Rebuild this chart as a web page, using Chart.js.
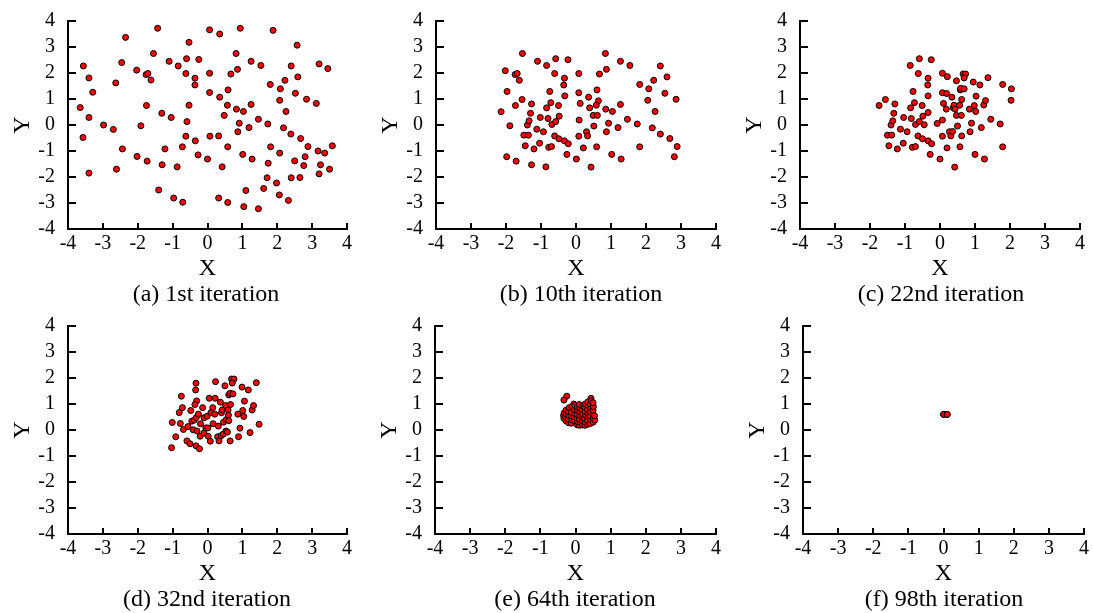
<!DOCTYPE html>
<html>
<head>
<meta charset="utf-8">
<script src="https://cdn.jsdelivr.net/npm/chart.js@4.4.1/dist/chart.umd.min.js"></script>
<style>
  body { margin: 0; background: #fff; }
  #figure { position: relative; width: 1093px; height: 613px; overflow: hidden; }
  .panel { position: absolute; }
  .caption {
    position: absolute; font-family: 'Liberation Serif', 'Times New Roman', serif;
    font-size: 24px; line-height: 28px; color: #000; white-space: nowrap;
    transform: translateX(-50%);
  }
</style>
</head>
<body>
<div id="figure"></div>
<script>
// ========== DATA ==========
const axisTicks = [-4, -3, -2, -1, 0, 1, 2, 3, 4];
const captions = ['(a) 1st iteration', '(b) 10th iteration', '(c) 22nd iteration',
  '(d) 32nd iteration', '(e) 64th iteration', '(f) 98th iteration'];

const iter1 = [
  [-3.56, 2.27], [-3.40, 1.81], [-3.29, 1.26], [-3.65, 0.67], [-3.40, 0.29], [-3.57, -0.48],
  [-3.40, -1.85], [-2.98, 0.00], [-2.70, -0.17], [-2.44, -0.92], [-2.61, -1.70], [-2.63, 1.62],
  [-2.46, 2.40], [-2.35, 3.37], [-2.03, 2.11], [-1.76, 1.94], [-1.71, 1.98], [-1.62, 1.73],
  [-1.75, 0.75], [-1.91, -0.03], [-2.02, -1.21], [-1.73, -1.39], [-1.43, 3.72], [-1.55, 2.75],
  [-1.31, 0.45], [-1.22, -0.92], [-1.30, -1.53], [-1.40, -2.50], [-1.10, 2.45], [-1.04, 0.29],
  [-0.84, 2.27], [-0.87, -1.61], [-0.97, -2.81], [-0.71, -2.97], [-0.72, -0.84], [-0.53, 3.18],
  [-0.60, 2.55], [-0.62, 1.98], [-0.53, 0.76], [-0.59, 0.13], [-0.62, -0.43], [-0.36, 1.80],
  [-0.36, 1.54], [-0.25, 2.52], [-0.35, -0.61], [-0.27, -1.15], [0.00, -1.31], [0.06, 3.66],
  [0.35, 3.50], [0.06, 1.99], [0.06, 1.25], [0.35, 1.07], [0.07, -0.43], [0.32, -0.42],
  [0.42, -1.61], [0.32, -2.81], [0.58, -2.98], [0.48, 0.37], [0.57, 0.76], [0.59, 1.35],
  [0.67, 1.96], [0.82, 2.75], [0.86, 2.14], [0.94, 3.72], [0.83, 0.61], [1.03, 0.52],
  [0.91, 0.07], [0.87, -0.26], [0.58, -0.84], [1.01, -1.13], [1.10, -2.52], [1.04, -3.14],
  [1.19, -0.10], [1.25, 2.45], [1.25, 0.79], [1.28, -1.31], [1.46, -3.22], [1.46, 0.22],
  [1.53, 2.29], [1.73, 0.04], [1.80, 1.56], [1.81, -0.84], [1.74, -1.47], [1.71, -2.03],
  [1.61, -2.44], [1.88, 3.64], [1.98, -2.23], [2.06, -2.69], [2.07, 0.95], [2.09, 1.39],
  [2.07, -1.08], [2.18, -0.11], [2.22, 1.72], [2.25, 0.52], [2.32, -2.90], [2.40, 2.27],
  [2.39, -0.35], [2.40, -2.03], [2.57, 3.07], [2.59, 1.85], [2.52, 1.22], [2.67, -0.52],
  [2.50, -1.38], [2.65, -2.02], [2.84, 0.99], [2.88, -0.83], [2.80, -1.22], [2.76, -1.56],
  [3.12, 0.83], [3.20, 2.35], [3.17, -1.00], [3.20, -1.88], [3.24, -1.53], [3.45, 2.17],
  [3.36, -1.08], [3.50, -1.70], [3.58, -0.80]
];

const iter10 = [
  [-2.14, 0.51], [-2.02, 2.09], [-1.97, 1.29], [-1.89, -0.03], [-1.98, -1.22], [-1.71, -1.39],
  [-1.74, 1.94], [-1.68, 1.98], [-1.62, 1.72], [-1.73, 0.75], [-1.53, 2.75], [-1.54, 0.98],
  [-1.49, -0.39], [-1.36, -0.39], [-1.45, -0.80], [-1.39, 0.00], [-1.34, 0.16], [-1.30, 0.45],
  [-1.27, 0.81], [-1.27, -1.53], [-1.20, -0.92], [-1.12, -0.16], [-1.10, 2.45], [-1.02, 0.29],
  [-1.04, -0.70], [-0.93, -0.26], [-0.84, 2.29], [-0.84, 0.66], [-0.80, 0.25], [-0.78, -0.86],
  [-0.70, -0.83], [-0.86, -1.61], [-0.75, 1.29], [-0.72, 0.86], [-0.69, 0.02], [-0.58, 0.13],
  [-0.61, -0.42], [-0.58, 2.55], [-0.61, 1.98], [-0.50, 0.75], [-0.48, 0.34], [-0.49, -0.53],
  [-0.23, 2.51], [-0.33, 1.80], [-0.35, 1.54], [-0.32, 1.12], [-0.33, -0.61], [-0.22, -0.72],
  [-0.26, -1.13], [0.01, -1.31], [0.08, 1.98], [0.08, 1.24], [0.12, 0.83], [0.09, 0.19],
  [0.08, -0.43], [0.21, -0.88], [0.30, -0.26], [0.33, -0.42], [0.36, 1.07], [0.39, 0.66],
  [0.49, 0.37], [0.51, -0.04], [0.43, -1.62], [0.60, 1.35], [0.64, 0.93], [0.58, 0.76],
  [0.61, 0.37], [0.59, -0.84], [0.67, 1.96], [0.84, 2.75], [0.87, 2.14], [0.85, 0.61],
  [0.93, 0.07], [0.87, -0.26], [1.04, 0.52], [1.02, -1.13], [1.20, -0.10], [1.27, 2.45],
  [1.27, 0.79], [1.29, -1.31], [1.47, 0.22], [1.54, 2.29], [1.75, 0.04], [1.82, 1.56],
  [1.82, -0.84], [2.08, 1.39], [2.05, 0.95], [2.18, -0.11], [2.22, 1.72], [2.26, 0.52],
  [2.41, 2.27], [2.41, -0.35], [2.54, 1.22], [2.60, 1.85], [2.68, -0.52], [2.86, 0.99],
  [2.89, -0.83], [2.81, -1.22]
];

const iter22 = [
  [-1.74, 0.75], [-1.56, 0.98], [-1.50, -0.39], [-1.38, -0.39], [-1.46, -0.80], [-1.40, 0.00],
  [-1.35, 0.16], [-1.32, 0.45], [-1.29, 0.81], [-1.22, -0.92], [-1.13, -0.16], [-1.04, 0.29],
  [-1.05, -0.70], [-0.94, -0.26], [-0.85, 2.29], [-0.84, 0.66], [-0.82, 0.25], [-0.79, -0.86],
  [-0.70, -0.83], [-0.77, 1.29], [-0.73, 0.86], [-0.70, 0.02], [-0.59, 0.13], [-0.63, -0.42],
  [-0.59, 2.55], [-0.62, 1.98], [-0.51, 0.75], [-0.49, 0.34], [-0.50, -0.53], [-0.45, 0.01],
  [-0.25, 2.51], [-0.34, 1.80], [-0.35, 1.54], [-0.34, 1.12], [-0.34, 0.48], [-0.34, -0.61],
  [-0.24, -0.72], [-0.28, -1.13], [-0.08, 0.06], [0.00, -1.31], [0.07, 1.99], [0.07, 1.24],
  [0.10, 0.83], [0.07, 0.19], [0.07, -0.43], [0.21, 1.86], [0.19, 1.21], [0.18, 0.61],
  [0.20, -0.88], [0.27, -0.26], [0.31, -0.42], [0.34, 1.07], [0.36, -0.25], [0.38, 0.66],
  [0.40, 0.76], [0.43, 0.61], [0.47, 1.70], [0.47, 0.37], [0.50, -0.04], [0.42, -1.62],
  [0.56, 0.76], [0.58, 1.35], [0.59, 1.41], [0.62, 0.98], [0.61, 0.37], [0.57, -0.84],
  [0.62, -0.42], [0.66, 1.96], [0.73, 1.96], [0.69, 1.81], [0.69, 1.39], [0.84, 0.61],
  [0.90, 0.07], [0.86, -0.26], [0.95, 1.65], [0.98, 0.75], [1.03, 1.11], [1.02, 0.52],
  [1.00, -1.13], [1.14, 1.54], [1.18, -0.10], [1.25, 0.77], [1.30, 0.94], [1.27, -1.31],
  [1.37, 1.82], [1.45, 0.22], [1.72, 0.04], [1.79, 1.56], [1.79, -0.84], [2.04, 1.39],
  [2.03, 0.95]
];

const iter32 = [
  [-1.03, -0.68], [-1.01, 0.29], [-0.91, -0.26], [-0.81, 0.67], [-0.78, 0.25], [-0.75, 1.30],
  [-0.72, 0.86], [-0.69, 0.02], [-0.59, -0.42], [-0.56, 0.13], [-0.50, -0.53], [-0.48, 0.75],
  [-0.45, 0.34], [-0.41, 0.01], [-0.38, 0.38], [-0.33, -0.61], [-0.33, 1.80], [-0.34, 1.54],
  [-0.31, 1.12], [-0.36, 0.98], [-0.32, 0.48], [-0.30, -0.04], [-0.26, 0.61], [-0.23, -0.72],
  [-0.21, -0.24], [-0.20, 0.24], [-0.14, 0.86], [-0.10, -0.12], [-0.10, 0.47], [-0.05, 0.08],
  [-0.01, 0.53], [0.01, 0.08], [0.02, -0.24], [0.05, 1.22], [0.08, -0.43], [0.10, 0.67],
  [0.15, 0.86], [0.16, 0.24], [0.23, 1.86], [0.22, 1.22], [0.21, 0.61], [0.29, -0.26],
  [0.33, -0.42], [0.31, 0.15], [0.37, 1.07], [0.39, -0.22], [0.40, 0.66], [0.42, 0.77],
  [0.46, 0.30], [0.45, -0.16], [0.50, 1.70], [0.52, 0.94], [0.53, -0.04], [0.54, 0.40],
  [0.57, -0.08], [0.59, 0.77], [0.60, 0.57], [0.61, 1.35], [0.61, 0.36], [0.65, 1.41],
  [0.66, 0.98], [0.65, -0.42], [0.69, 1.96], [0.76, 1.96], [0.71, 1.81], [0.73, 1.39],
  [0.87, 0.61], [0.93, 0.07], [0.89, -0.26], [0.99, 1.65], [1.01, 0.75], [1.06, 1.11],
  [1.04, 0.52], [1.17, 1.54], [1.22, -0.10], [1.28, 0.77], [1.32, 0.94], [1.40, 1.82],
  [1.48, 0.22]
];

const iter64 = [
  [-0.25, 1.30], [-0.33, 1.15], [0.44, 1.22], [-0.05, 1.00],
  [-0.33, 0.45], [-0.34, 0.56], [-0.32, 0.66],
  [-0.27, 0.35], [-0.28, 0.50], [-0.26, 0.62], [-0.27, 0.76],
  [-0.20, 0.28], [-0.21, 0.42], [-0.19, 0.55], [-0.20, 0.70], [-0.18, 0.86],
  [-0.12, 0.26], [-0.11, 0.40], [-0.13, 0.55], [-0.12, 0.68], [-0.10, 0.90],
  [-0.03, 0.35], [-0.04, 0.50], [-0.02, 0.63], [-0.03, 0.78], [-0.01, 0.94],
  [0.05, 0.20], [0.06, 0.32], [0.04, 0.46], [0.05, 0.60], [0.06, 0.75], [0.05, 0.88],
  [0.12, 0.18], [0.13, 0.30], [0.11, 0.42], [0.12, 0.56], [0.13, 0.70], [0.12, 0.85], [0.11, 0.98],
  [0.20, 0.20], [0.19, 0.35], [0.21, 0.48], [0.20, 0.62], [0.19, 0.78], [0.21, 0.92],
  [0.27, 0.18], [0.28, 0.30], [0.26, 0.45], [0.28, 0.58], [0.27, 0.72], [0.26, 0.88], [0.28, 1.00],
  [0.35, 0.22], [0.34, 0.38], [0.36, 0.52], [0.35, 0.65], [0.34, 0.80], [0.36, 0.95], [0.35, 1.08],
  [0.42, 0.25], [0.43, 0.40], [0.41, 0.55], [0.42, 0.70], [0.43, 0.85], [0.42, 1.00], [0.45, 1.12],
  [0.50, 0.30], [0.51, 0.45], [0.49, 0.60], [0.50, 0.75], [0.51, 0.90], [0.50, 1.05],
  [0.55, 0.38], [0.54, 0.55]
];

const iter98 = [
  [0.00, 0.60], [0.01, 0.60], [0.10, 0.60], [0.11, 0.60]
];

const panelPoints = [iter1, iter10, iter22, iter32, iter64, iter98];

// ========== LAYOUT ==========
// L/R/T/B = plot area edges in page pixels, cx/cy = caption centre
const panels = [
  { L: 68, R: 349, T: 21, B: 229, cx: 206, cy: 293 },
  { L: 436, R: 718, T: 21, B: 229, cx: 581, cy: 293 },
  { L: 800, R: 1082, T: 21, B: 229, cx: 941, cy: 293 },
  { L: 68, R: 349, T: 326, B: 534, cx: 207, cy: 598 },
  { L: 435, R: 718, T: 326, B: 534, cx: 575, cy: 598 },
  { L: 803, R: 1086, T: 326, B: 534, cx: 944, cy: 598 }
];

const SERIF = "'Liberation Serif', 'Times New Roman', serif";
const Y_W = 60, X_H = 54, PAD_T = 38, PAD_R = 12;

function axisOptions(axis) {
  const isX = axis === 'x';
  return {
    type: 'linear',
    min: -4,
    max: 4,
    afterBuildTicks: s => { s.ticks = axisTicks.map(v => ({ value: v })); },
    afterFit: s => { if (isX) s.height = X_H; else s.width = Y_W; },
    ticks: {
      color: '#000',
      font: { family: SERIF, size: 20 },
      padding: isX ? 9 : 21,
      maxRotation: 0,
      autoSkip: false,
      callback: v => String(v)
    },
    // negative tick length = ticks pointing into the plot
    grid: { drawOnChartArea: false, tickLength: isX ? -6 : -8, color: '#000', lineWidth: 2 },
    border: { color: '#000', width: 2 },
    title: {
      display: true,
      text: isX ? 'X' : 'Y',
      color: '#000',
      font: { family: SERIF, size: 24 },
      padding: 0
    }
  };
}

function makePanel(p, i) {
  const fig = document.getElementById('figure');
  const box = document.createElement('div');
  box.className = 'panel';
  box.style.left = (p.L - Y_W) + 'px';
  box.style.top = (p.T - PAD_T) + 'px';
  box.style.width = (p.R - p.L + Y_W + PAD_R) + 'px';
  box.style.height = (p.B - p.T + PAD_T + X_H) + 'px';
  const canvas = document.createElement('canvas');
  box.appendChild(canvas);
  fig.appendChild(box);

  const cap = document.createElement('div');
  cap.className = 'caption';
  cap.textContent = captions[i];
  cap.style.left = p.cx + 'px';
  cap.style.top = (p.cy - 14) + 'px';
  fig.appendChild(cap);

  new Chart(canvas, {
    type: 'scatter',
    data: {
      datasets: [{
        data: panelPoints[i].map(([x, y]) => ({ x, y })),
        pointRadius: 3,
        pointBackgroundColor: '#ff0000',
        pointBorderColor: '#000',
        pointBorderWidth: 1
      }]
    },
    options: {
      responsive: true,
      maintainAspectRatio: false,
      animation: false,
      layout: { padding: { left: 0, top: PAD_T, right: PAD_R, bottom: 0 } },
      plugins: { legend: { display: false }, tooltip: { enabled: false } },
      scales: { x: axisOptions('x'), y: axisOptions('y') }
    }
  });
}

document.addEventListener('DOMContentLoaded', () => {
  panels.forEach(makePanel);
});
</script>
</body>
</html>
